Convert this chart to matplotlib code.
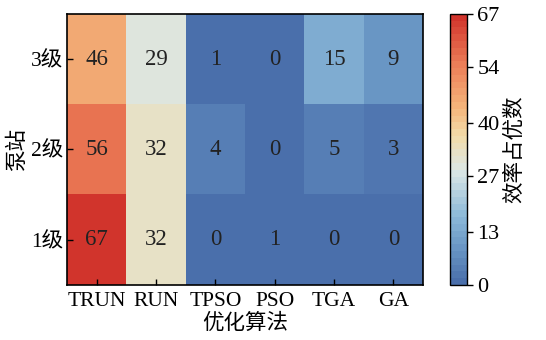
import numpy as np
import matplotlib
matplotlib.use("Agg")
import matplotlib.pyplot as plt
from matplotlib.colors import LinearSegmentedColormap

plt.rcParams['font.family'] = ['Liberation Serif', 'Noto Sans CJK SC']
plt.rcParams['axes.unicode_minus'] = False

# dados
algoritmos = ["TRUN", "RUN", "TPSO", "PSO", "TGA", "GA"]
niveis = ["3级", "2级", "1级"]
nivel3 = [46, 29, 1, 0, 15, 9]
nivel2 = [56, 32, 4, 0, 5, 3]
nivel1 = [67, 32, 0, 1, 0, 0]
cbar_ticks = [0, 13, 27, 40, 54, 67]

dados = np.array([nivel3, nivel2, nivel1])

cmap = LinearSegmentedColormap.from_list("azul_vermelho", [
    (0.00, "#4a6fab"),
    (0.13, "#6a97c5"),
    (0.25, "#8dbad9"),
    (0.42, "#dce7e5"),
    (0.55, "#f2dcaa"),
    (0.66, "#f4b47a"),
    (0.82, "#ec7e58"),
    (1.00, "#d1342c"),
], N=40)

fig = plt.figure(figsize=(5.46, 3.40), dpi=100)
ax = fig.add_axes([0.123, 0.162, 0.652, 0.797])
cax = fig.add_axes([0.824, 0.162, 0.031, 0.797])

im = ax.imshow(dados, cmap=cmap, vmin=0, vmax=67, aspect="auto")

for i in range(dados.shape[0]):
    for j in range(dados.shape[1]):
        ax.text(j, i, str(dados[i, j]), ha="center", va="center",
                fontsize=16.5, color="#222222")

ax.set_xticks(range(len(algoritmos)))
ax.set_xticklabels(algoritmos, fontsize=15.5)
ax.set_yticks(range(len(niveis)))
ax.set_yticklabels(niveis, fontsize=15.5)
ax.tick_params(direction="in", length=4, width=1)
ax.tick_params(axis="x", pad=5)
ax.tick_params(axis="y", pad=3)
ax.set_xlabel("优化算法", fontsize=15.5, labelpad=2)
ax.set_ylabel("泵站", fontsize=15.5, labelpad=2)
for s in ax.spines.values():
    s.set_linewidth(1.2)

cb = fig.colorbar(im, cax=cax, ticks=cbar_ticks)
cb.ax.tick_params(labelsize=16, length=4, width=1)
cb.set_label("效率占优数", fontsize=15.5)
cb.outline.set_linewidth(1)

plt.savefig("out.png", dpi=100)
